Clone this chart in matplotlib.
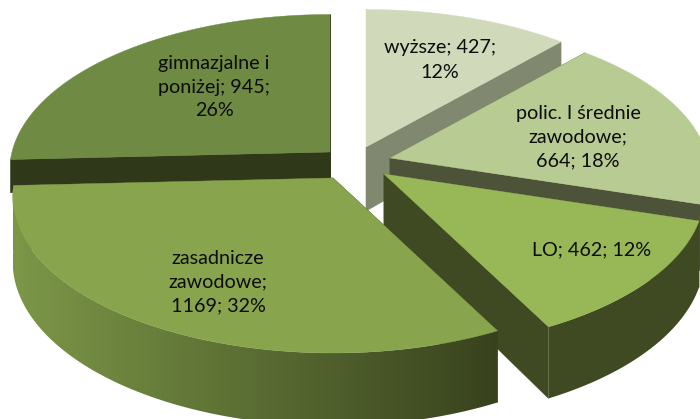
import numpy as np
import matplotlib
matplotlib.use("Agg")
import matplotlib.pyplot as plt
from matplotlib.patches import Polygon
from matplotlib.colors import to_rgb

# data
categories = ["wyższe", "polic. I średnie\nzawodowe;", "LO", "zasadnicze\nzawodowe;", "gimnazjalne i\nponiżej;"]
values = [427, 664, 462, 1169, 945]
labels = ["wyższe; 427;\n12%", "polic. I średnie\nzawodowe;\n664; 18%", "LO; 462; 12%",
          "zasadnicze\nzawodowe;\n1169; 32%", "gimnazjalne i\nponiżej; 945;\n26%"]

# style / layout
apexes = [(366, 147), (390, 158), (384, 174), (333, 178), (330, 152)]
cut_depths = [64, 64, 64, 64, 33]
top_cols = ["#D0DABB", "#B8CB92", "#98B858", "#88A54E", "#6F8A42"]
cut_cols = ["#80886F", "#4C5339", "#3F4A22", "#3A431E", "#30381A"]
arc_left = ["#80886F", "#4C5339", "#3F4A22", "#7C9748", "#30381A"]
arc_right = ["#80886F", "#4C5339", "#3F4A22", "#38421D", "#30381A"]
label_pos = [(440, 60), (578, 137), (592, 250), (218, 282), (214, 87)]
draw_order = [0, 4, 1, 2, 3]
RX, RY, P, DEPTH = 318, 154, 0.12, 64

fig = plt.figure(figsize=(7, 4.19), dpi=100)
ax = fig.add_axes([0, 0, 1, 1])

shares = np.array(values) / sum(values) * 2 * np.pi
ends = np.cumsum(shares)
starts = ends - shares


def scale(t):
    return 1 / (1 + P * np.cos(t))


def rim(a, t):
    s = scale(t)
    return a[0] + RX * np.sin(t) * s, a[1] - RY * np.cos(t) * s


for z, i in enumerate(draw_order):
    a = apexes[i]
    ts = np.linspace(starts[i], ends[i], 200)
    xs, ys = rim(a, ts)
    d = DEPTH * scale(ts)
    cd = cut_depths[i]
    # cut faces
    for k in (0, -1):
        quad = [a, (xs[k], ys[k]), (xs[k], ys[k] + d[k] * cd / DEPTH), (a[0], a[1] + cd)]
        ax.add_patch(Polygon(quad, closed=True, fc=cut_cols[i], ec=cut_cols[i], lw=0.4, zorder=z * 3 + 1))
    # outer wall, front-facing part only, with a horizontal gradient
    front = np.cos(ts) < -0.06
    if front.any():
        fx, fy, fd = xs[front], ys[front], d[front]
        outline = list(zip(fx, fy)) + list(zip(fx[::-1], (fy + fd)[::-1]))
        wall = Polygon(outline, closed=True, fc="none", ec="none", transform=ax.transData)
        ax.add_patch(wall)
        c0, c1 = np.array(to_rgb(arc_left[i])), np.array(to_rgb(arc_right[i]))
        ramp = np.linspace(0, 1, 256)[None, :, None]
        img = (1 - ramp) * c0 + ramp * c1
        im = ax.imshow(img, extent=(fx.min(), fx.max(), 419, 0), aspect="auto",
                       zorder=z * 3 + 2, interpolation="bilinear")
        im.set_clip_path(wall)
    # top
    top = [a] + list(zip(xs, ys))
    ax.add_patch(Polygon(top, closed=True, fc=top_cols[i], ec=top_cols[i], lw=0.3, zorder=z * 3 + 3))

for lab, (x, y) in zip(labels, label_pos):
    ax.text(x, y, lab, ha="center", va="center", family="Lato", fontsize=14.2,
            color="#0c0c0c", linespacing=1.5, zorder=100)

ax.set_xlim(0, 700)
ax.set_ylim(419, 0)
ax.axis("off")
fig.savefig("out.png", dpi=100)
